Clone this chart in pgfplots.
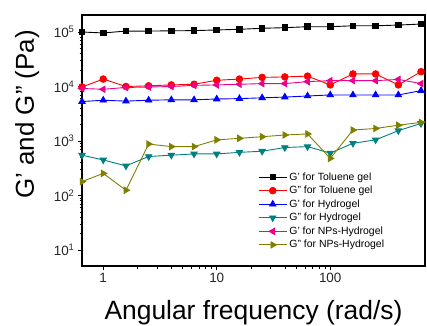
\documentclass[border=0pt]{standalone}
\usepackage{pgfplots}
\pgfplotsset{compat=1.18}
\usepackage{fontspec}
\setmainfont{Liberation Sans}
\definecolor{cteal}{RGB}{0,128,128}
\definecolor{colive}{RGB}{128,128,0}
\begin{document}
\begin{tikzpicture}
\begin{axis}[
  name=ax,
  scale only axis,
  width=343bp, height=251bp,
  xmode=log, ymode=log,
  xmin=0.65, xmax=684,
  ymin=5.1, ymax=2.05e5,
  /pgf/number format/assume math mode=true,
  xtick={1,10,100}, xticklabels={1,10,100},
  ytick={10,100,1000,10000,100000},
  yticklabels={10\textsuperscript{1},10\textsuperscript{2},10\textsuperscript{3},10\textsuperscript{4},10\textsuperscript{5}},
  xtick pos=left, ytick pos=left,
  tick align=outside,
  major tick length=4bp, minor tick length=2.5bp,
  every tick/.style={black, line width=0.8bp},
  axis line style={line width=1.4bp},
  ticklabel style={font=\fontsize{13.5}{15}\selectfont, text=black!85},
  xlabel={Angular frequency (rad/s)},
  ylabel={G' and G'' (Pa)},
  xlabel style={font=\fontsize{26.5}{30}\selectfont, at={(axis description cs:0.5,-0.215)}, anchor=base},
  ylabel style={font=\fontsize{26}{30}\selectfont, at={(axis description cs:-0.160,0.604)}, anchor=center},
  clip mode=individual,
  every axis plot/.append style={line width=0.9bp},
  legend style={draw=none, fill=none, at={(rel axis cs:0.51,0.385)}, anchor=north west,
    font=\fontsize{10.5}{12}\selectfont, row sep=0.5bp, inner sep=1pt},
  legend cell align=left,
  legend image code/.code={\draw[mark repeat=2,mark phase=2] plot coordinates {(0cm,0cm) (0.5cm,0cm) (1.0cm,0cm)};},
]
\addplot[black, mark=square*, mark size=2.8bp] coordinates {
(0.65,1.0e5) (1,0.96e5) (1.585,1.04e5) (2.512,1.04e5) (3.981,1.05e5) (6.310,1.06e5) (10,1.09e5) (15.85,1.12e5)
(25.12,1.17e5) (39.81,1.2e5) (63.10,1.25e5) (100,1.25e5) (158.5,1.3e5) (251.2,1.3e5) (398.1,1.34e5) (631,1.4e5)};
\addlegendentry{G' for Toluene gel}
\addplot[red, mark=*, mark size=3.3bp] coordinates {
(0.65,9.8e3) (1,1.37e4) (1.585,1.0e4) (2.512,1.03e4) (3.981,1.07e4) (6.310,1.1e4) (10,1.3e4) (15.85,1.37e4)
(25.12,1.47e4) (39.81,1.5e4) (63.10,1.55e4) (100,1.07e4) (158.5,1.7e4) (251.2,1.7e4) (398.1,1.07e4) (631,1.87e4)};
\addlegendentry{G'' for Toluene gel}
\addplot[blue, mark=triangle*, mark size=3.6bp] coordinates {
(0.65,5.3e3) (1,5.6e3) (1.585,5.4e3) (2.512,5.6e3) (3.981,5.7e3) (6.310,5.7e3) (10,5.9e3) (15.85,6.0e3)
(25.12,6.2e3) (39.81,6.4e3) (63.10,6.7e3) (100,7.0e3) (158.5,7.0e3) (251.2,7.0e3) (398.1,7.0e3) (631,8.4e3)};
\addlegendentry{G' for Hydrogel}
\addplot[cteal, mark=triangle*, mark options={rotate=180}, mark size=3.6bp] coordinates {
(0.65,550) (1,450) (1.585,350) (2.512,520) (3.981,550) (6.310,580) (10,580) (15.85,620)
(25.12,650) (39.81,760) (63.10,790) (100,600) (158.5,910) (251.2,1050) (398.1,1550) (631,2100)};
\addlegendentry{G'' for Hydrogel}
\addplot[magenta, mark=triangle*, mark options={rotate=90}, mark size=3.6bp] coordinates {
(0.65,9.2e3) (1,8.9e3) (1.585,9.6e3) (2.512,9.8e3) (3.981,1.0e4) (6.310,1.05e4) (10,1.07e4) (15.85,1.1e4)
(25.12,1.13e4) (39.81,1.13e4) (63.10,1.23e4) (100,1.28e4) (158.5,1.28e4) (251.2,1.28e4) (398.1,1.35e4) (631,1.13e4)};
\addlegendentry{G' for NPs-Hydrogel}
\addplot[colive, mark=triangle*, mark options={rotate=-90}, mark size=3.6bp] coordinates {
(0.65,180) (1,255) (1.585,125) (2.512,880) (3.981,790) (6.310,790) (10,1050) (15.85,1120)
(25.12,1200) (39.81,1290) (63.10,1350) (100,480) (158.5,1590) (251.2,1700) (398.1,1950) (631,2200)};
\addlegendentry{G'' for NPs-Hydrogel}
\end{axis}
\pgfresetboundingbox
\path[use as bounding box] ([xshift=-82bp,yshift=-59bp]ax.south west) rectangle ([xshift=2bp,yshift=15bp]ax.north east);
\end{tikzpicture}
\end{document}
